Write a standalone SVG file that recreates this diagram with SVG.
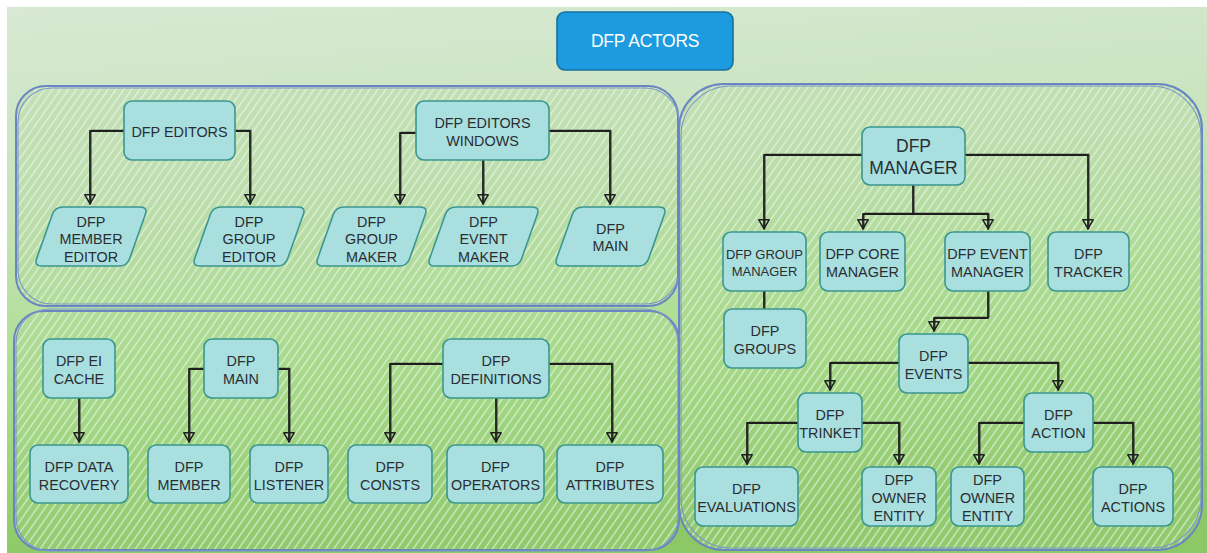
<svg xmlns="http://www.w3.org/2000/svg" xmlns:xlink="http://www.w3.org/1999/xlink" width="1207" height="553" viewBox="0 0 1207 553">
  <style>
    .node rect, .node path { fill: #a9dfdf; stroke: #3b978f; stroke-width: 1.6; }
    .node text { font-family: "Liberation Sans", Arial, sans-serif; font-size: 14.4px; fill: #2a2e32; text-anchor: middle; }
    .title rect { fill: #1d9be0; stroke: #17729f; stroke-width: 1.6; }
    .title text { font-family: "Liberation Sans", Arial, sans-serif; font-size: 17.5px; fill: #ffffff; text-anchor: middle; letter-spacing: -0.3px; }
    .big text { font-size: 17.5px; }
    .small text { font-size: 13px; }
    .panel { fill: url(#hatch); stroke: #6a86c2; stroke-width: 2; }
    .panel-under { fill: #9fd07e; fill-opacity: 0.25; stroke: none; }
    .panel-sketch { fill: none; stroke: #7c95c8; stroke-width: 1.1; }
  </style>
  <defs>
    <linearGradient id="bg" x1="0" y1="0" x2="0.15" y2="1">
      <stop offset="0" stop-color="#d7e9d3"/>
      <stop offset="0.35" stop-color="#c8e3bc"/>
      <stop offset="0.7" stop-color="#a9dd8b"/>
      <stop offset="1" stop-color="#8cc866"/>
    </linearGradient>
    <pattern id="hatch" patternUnits="userSpaceOnUse" width="6.5" height="6.5" patternTransform="rotate(-55)">
      <line x1="0" y1="3.25" x2="6.5" y2="3.25" stroke="#f0f8f4" stroke-opacity="0.7" stroke-width="1.3"/>
    </pattern>
    <marker id="tri" viewBox="0 0 10 12" refX="10" refY="6" markerWidth="10" markerHeight="12" markerUnits="userSpaceOnUse" orient="auto">
      <path d="M0.8,0.8 L9.6,6 L0.8,11.2 Z" fill="none" stroke="#1f1f1f" stroke-width="1.5" stroke-linejoin="round"/>
    </marker>
  </defs>

  <!-- page -->
  <rect x="0" y="0" width="1207" height="553" fill="#ffffff"/>
  <rect x="7" y="7" width="1200" height="546" fill="url(#bg)"/>

  <!-- panels -->
  <g id="panels">
    <rect class="panel-under" x="16" y="86" width="662" height="220" rx="30"/>
    <rect class="panel" x="16" y="86" width="662" height="220" rx="30"/>
    <rect class="panel-sketch" x="18" y="88" width="661" height="216" rx="34"/>
    <rect class="panel-under" x="14" y="311" width="665" height="239" rx="30"/>
    <rect class="panel" x="14" y="311" width="665" height="239" rx="30"/>
    <rect class="panel-sketch" x="16" y="309" width="662" height="242" rx="34"/>
    <rect class="panel-under" x="679" y="84" width="523" height="466" rx="45"/>
    <rect class="panel" x="679" y="84" width="523" height="466" rx="45"/>
    <rect class="panel-sketch" x="681" y="86" width="520" height="462" rx="50"/>
  </g>

  <!-- connectors -->
  <g id="connectors" fill="none" stroke="#1f1f1f" stroke-width="1.8" stroke-linecap="round" stroke-linejoin="round" marker-end="url(#tri)">
    <g id="link-paths">
      <path d="M124,131 H90 V204"/>
      <path d="M235,131 H250 V204"/>
      <path d="M416,133 H400 V204"/>
      <path d="M483,160 V204"/>
      <path d="M549,131 H610 V204"/>
      <path d="M79,398 V442"/>
      <path d="M204,369 H189 V442"/>
      <path d="M278,369 H289 V442"/>
      <path d="M443,364 H390 V442"/>
      <path d="M496,398 V442"/>
      <path d="M549,364 H612 V442"/>
      <path d="M862,155 H764 V229"/>
      <path d="M965,155 H1088 V229"/>
      <path d="M913,185 V214 H863 V229"/>
      <path d="M913,214 H988 V229"/>
      <path d="M764,291 V309" marker-end="none"/>
      <path d="M988,291 V318 H934 V331"/>
      <path d="M899,363 H830 V390"/>
      <path d="M968,363 H1058 V390"/>
      <path d="M798,423 H747 V464"/>
      <path d="M862,423 H899 V464"/>
      <path d="M1024,423 H979 V464"/>
      <path d="M1093,423 H1133 V464"/>
    </g>
    <use href="#link-paths" xlink:href="#link-paths" transform="translate(1.1,-0.8)" stroke-width="0.9" marker-end="none" opacity="0.85"/>
  </g>

  <!-- title -->
  <g id="n-title" class="title">
    <rect x="557" y="12" width="176" height="58" rx="8"/>
    <text x="645" y="47">DFP ACTORS</text>
  </g>

  <!-- editors panel -->
  <g id="n-editors" class="node">
    <rect x="124" y="101" width="111" height="59" rx="8"/>
    <text x="179.5" y="136.5">DFP EDITORS</text>
  </g>
  <g id="n-editors-windows" class="node">
    <rect x="416" y="101" width="133" height="59" rx="8"/>
    <text x="482.5" y="128">DFP EDITORS</text>
    <text x="482.5" y="146">WINDOWS</text>
  </g>
  <g id="n-member-editor" class="node">
    <path d="M63,207 L140,207 Q148,207 145.3,214.6 L129.7,258.4 Q127,266 119,266 L42,266 Q34,266 36.7,258.4 L52.3,214.6 Q55,207 63,207 Z"/>
    <text x="91" y="227">DFP</text>
    <text x="91" y="244">MEMBER</text>
    <text x="91" y="262">EDITOR</text>
  </g>
  <g id="n-group-editor" class="node">
    <path d="M221,207 L298,207 Q306,207 303.3,214.6 L287.7,258.4 Q285,266 277,266 L200,266 Q192,266 194.7,258.4 L210.3,214.6 Q213,207 221,207 Z"/>
    <text x="249" y="227">DFP</text>
    <text x="249" y="244">GROUP</text>
    <text x="249" y="262">EDITOR</text>
  </g>
  <g id="n-group-maker" class="node">
    <path d="M344,207 L420,207 Q428,207 425.3,214.6 L409.7,258.4 Q407,266 399,266 L323,266 Q315,266 317.7,258.4 L333.3,214.6 Q336,207 344,207 Z"/>
    <text x="371.5" y="227">DFP</text>
    <text x="371.5" y="244">GROUP</text>
    <text x="371.5" y="262">MAKER</text>
  </g>
  <g id="n-event-maker" class="node">
    <path d="M456,207 L532,207 Q540,207 537.3,214.6 L521.7,258.4 Q519,266 511,266 L435,266 Q427,266 429.7,258.4 L445.3,214.6 Q448,207 456,207 Z"/>
    <text x="483.5" y="227">DFP</text>
    <text x="483.5" y="244">EVENT</text>
    <text x="483.5" y="262">MAKER</text>
  </g>
  <g id="n-main-editor" class="node">
    <path d="M583,207 L659,207 Q667,207 664.3,214.6 L648.7,258.4 Q646,266 638,266 L562,266 Q554,266 556.7,258.4 L572.3,214.6 Q575,207 583,207 Z"/>
    <text x="610.5" y="234">DFP</text>
    <text x="610.5" y="251">MAIN</text>
  </g>

  <!-- runtime panel -->
  <g id="n-ei-cache" class="node">
    <rect x="43" y="339" width="72" height="59" rx="8"/>
    <text x="79" y="366">DFP EI</text>
    <text x="79" y="384">CACHE</text>
  </g>
  <g id="n-data-recovery" class="node">
    <rect x="30" y="445" width="98" height="58" rx="8"/>
    <text x="79" y="471.5">DFP DATA</text>
    <text x="79" y="489.5">RECOVERY</text>
  </g>
  <g id="n-main" class="node">
    <rect x="204" y="339" width="74" height="59" rx="8"/>
    <text x="241" y="366">DFP</text>
    <text x="241" y="384">MAIN</text>
  </g>
  <g id="n-member" class="node">
    <rect x="148" y="445" width="82" height="58" rx="8"/>
    <text x="189" y="471.5">DFP</text>
    <text x="189" y="489.5">MEMBER</text>
  </g>
  <g id="n-listener" class="node">
    <rect x="250" y="445" width="78" height="58" rx="8"/>
    <text x="289" y="471.5">DFP</text>
    <text x="289" y="489.5">LISTENER</text>
  </g>
  <g id="n-definitions" class="node">
    <rect x="443" y="339" width="106" height="59" rx="8"/>
    <text x="496" y="366">DFP</text>
    <text x="496" y="384">DEFINITIONS</text>
  </g>
  <g id="n-consts" class="node">
    <rect x="348" y="445" width="84" height="58" rx="8"/>
    <text x="390" y="471.5">DFP</text>
    <text x="390" y="489.5">CONSTS</text>
  </g>
  <g id="n-operators" class="node">
    <rect x="447" y="445" width="97" height="58" rx="8"/>
    <text x="495.5" y="471.5">DFP</text>
    <text x="495.5" y="489.5">OPERATORS</text>
  </g>
  <g id="n-attributes" class="node">
    <rect x="557" y="445" width="106" height="58" rx="8"/>
    <text x="610" y="471.5">DFP</text>
    <text x="610" y="489.5">ATTRIBUTES</text>
  </g>

  <!-- manager panel -->
  <g id="n-manager" class="node big">
    <rect x="862" y="127" width="103" height="58" rx="8"/>
    <text x="913.5" y="152">DFP</text>
    <text x="913.5" y="174">MANAGER</text>
  </g>
  <g id="n-group-manager" class="node small">
    <rect x="723" y="232" width="83" height="59" rx="8"/>
    <text x="764.5" y="259">DFP GROUP</text>
    <text x="764.5" y="276">MANAGER</text>
  </g>
  <g id="n-core-manager" class="node">
    <rect x="820" y="232" width="85" height="59" rx="8"/>
    <text x="862.5" y="258.5">DFP CORE</text>
    <text x="862.5" y="276.5">MANAGER</text>
  </g>
  <g id="n-event-manager" class="node">
    <rect x="945" y="232" width="85" height="59" rx="8"/>
    <text x="987.5" y="258.5">DFP EVENT</text>
    <text x="987.5" y="276.5">MANAGER</text>
  </g>
  <g id="n-tracker" class="node">
    <rect x="1048" y="232" width="81" height="59" rx="8"/>
    <text x="1088.5" y="258.5">DFP</text>
    <text x="1088.5" y="276.5">TRACKER</text>
  </g>
  <g id="n-groups" class="node">
    <rect x="724" y="309" width="82" height="59" rx="8"/>
    <text x="765" y="335.5">DFP</text>
    <text x="765" y="353.5">GROUPS</text>
  </g>
  <g id="n-events" class="node">
    <rect x="899" y="334" width="69" height="59" rx="8"/>
    <text x="933.5" y="360.5">DFP</text>
    <text x="933.5" y="378.5">EVENTS</text>
  </g>
  <g id="n-trinket" class="node">
    <rect x="798" y="393" width="64" height="59" rx="8"/>
    <text x="830" y="419.5">DFP</text>
    <text x="830" y="437.5">TRINKET</text>
  </g>
  <g id="n-action" class="node">
    <rect x="1024" y="393" width="69" height="59" rx="8"/>
    <text x="1058.5" y="419.5">DFP</text>
    <text x="1058.5" y="437.5">ACTION</text>
  </g>
  <g id="n-evaluations" class="node">
    <rect x="695" y="467" width="103" height="59" rx="8"/>
    <text x="746.5" y="493.5">DFP</text>
    <text x="746.5" y="511.5">EVALUATIONS</text>
  </g>
  <g id="n-trinket-owner" class="node">
    <rect x="862" y="467" width="74" height="59" rx="8"/>
    <text x="899" y="485">DFP</text>
    <text x="899" y="503">OWNER</text>
    <text x="899" y="521">ENTITY</text>
  </g>
  <g id="n-action-owner" class="node">
    <rect x="951" y="467" width="73" height="59" rx="8"/>
    <text x="987.5" y="485">DFP</text>
    <text x="987.5" y="503">OWNER</text>
    <text x="987.5" y="521">ENTITY</text>
  </g>
  <g id="n-actions" class="node">
    <rect x="1093" y="467" width="80" height="59" rx="8"/>
    <text x="1133" y="493.5">DFP</text>
    <text x="1133" y="511.5">ACTIONS</text>
  </g>
</svg>
